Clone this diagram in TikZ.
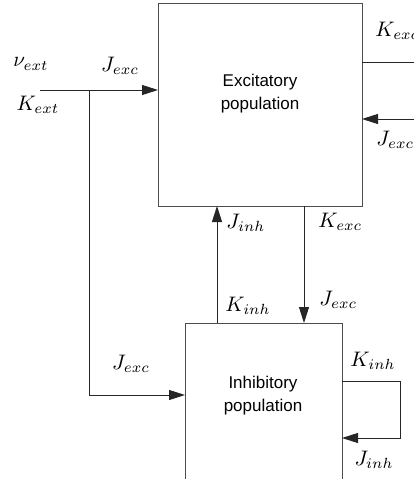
\documentclass[tikz,border=0pt]{standalone}
\usepackage{fontspec}
\newfontfamily\helv{Liberation Sans}
\usetikzlibrary{arrows.meta,calc}
\begin{document}
\begin{tikzpicture}[x=1pt,y=-1pt,
  box/.style={draw=black!70,line width=0.9pt,inner sep=0pt,outer sep=0pt},
  lbl/.style={inner sep=0pt,scale=2.1},
  btxt/.style={align=center,inner sep=0pt,font=\helv\fontsize{17}{23}\selectfont},
  con/.style={line width=0.9pt,draw=black!85},
  arr/.style={con,-{Triangle[length=16pt,width=10pt]}}]
\useasboundingbox (0,0) rectangle (414,479);
\clip (0,0) rectangle (414,479);
% boxes
\node[box,minimum width=204pt,minimum height=203pt] (exc) at (260,104.5) {};
\node[box,minimum width=157pt,minimum height=200pt] (inh) at (263.5,423) {};
\node[btxt] (exct) at (260,94) {Excitatory\\population};
\node[btxt] (inht) at (263,396) {Inhibitory\\population};
% external input
\coordinate (ext) at (40,90);
\coordinate (br) at (89,90);
\draw[arr] (ext) -- (ext -| exc.west);
\draw[arr] (br) -- (br |- 0,395) -- (inh.west |- 0,395);
\node[lbl] (nu) at (31,64) {$\nu_{ext}$};
\node[lbl] (je1) at (120,66) {$J_{exc}$};
\node[lbl] (kext) at (38,105) {$K_{ext}$};
% right side of excitatory
\coordinate (r1) at (414,62);
\coordinate (r2) at (414,119);
\draw[con] (exc.east |- r1) -- (r1);
\draw[arr] (r2) -- (exc.east |- r2);
\node[lbl,anchor=west] (ke2) at (375,31) {$K_{exc}$};
\node[lbl,anchor=west] (je2) at (376,140) {$J_{exc}$};
% vertical connections
\coordinate (u) at (217,0);
\coordinate (d) at (304,0);
\draw[arr] (inh.north -| u) -- (exc.south -| u);
\draw[arr] (exc.south -| d) -- (inh.north -| d);
\node[lbl,anchor=west] (ji1) at (226,223) {$J_{inh}$};
\node[lbl,anchor=west] (ke1) at (318,222) {$K_{exc}$};
\node[lbl,anchor=west] (ki1) at (225,306) {$K_{inh}$};
\node[lbl,anchor=west] (je3) at (319,300) {$J_{exc}$};
\node[lbl] (je4) at (131,364) {$J_{exc}$};
% self loop
\coordinate (s1) at (400,381);
\coordinate (s2) at (400,438);
\draw[arr] (inh.east |- s1) -- (s1) -- (s2) -- (inh.east |- s2);
\node[lbl] (ki2) at (373,361) {$K_{inh}$};
\node[lbl] (ji2) at (374,460) {$J_{inh}$};
\end{tikzpicture}
\end{document}
